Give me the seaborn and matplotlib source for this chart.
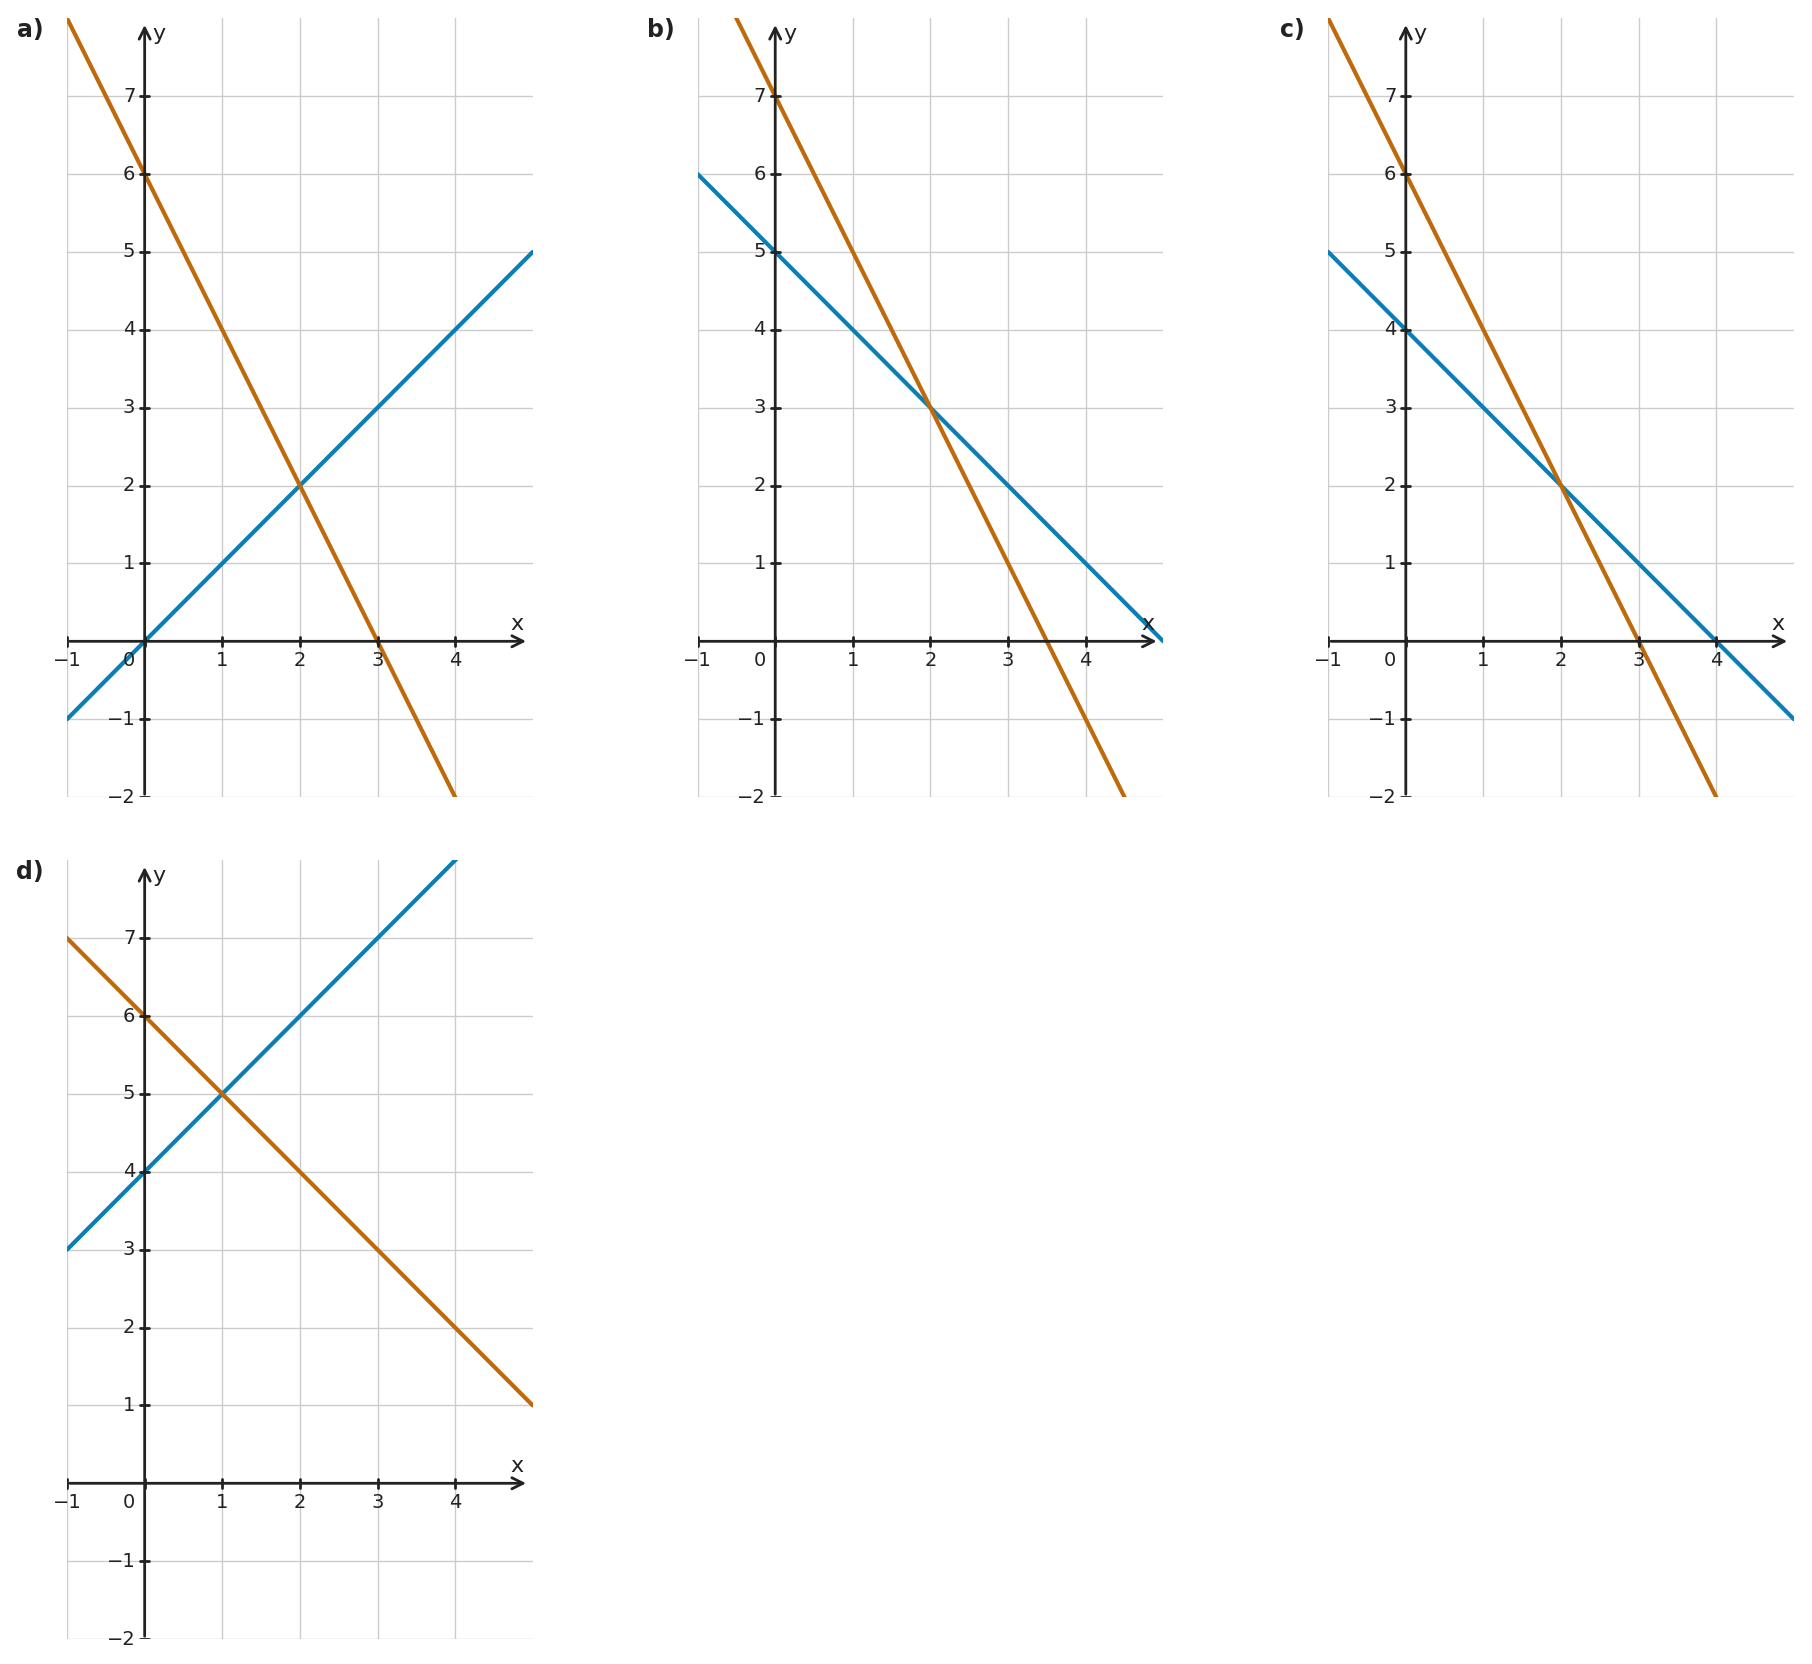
import numpy as np
import pandas as pd
import matplotlib
matplotlib.use("Agg")
import matplotlib.pyplot as plt
import seaborn as sns

sns.set_style("white")
plt.rcParams['font.family'] = ['DejaVu Sans']

panels = ["a)", "b)", "c)", "d)"]
blue_slope = [1, -1, -1, 1]
blue_icept = [0, 5, 4, 4]
orange_slope = [-2, -2, -2, -1]
orange_icept = [6, 7, 6, 6]
x_ticks = [-1, 0, 1, 2, 3, 4]
y_ticks = [-2, -1, 1, 2, 3, 4, 5, 6, 7]
BLUE = "#0a7fb5"
ORANGE = "#bf6a0a"
DARK = "#222222"

fig = plt.figure(figsize=(18.12, 16.64), dpi=100)
W, H = 0.257, 0.468
rects = [(0.037, 0.521), (0.385, 0.521), (0.733, 0.521), (0.037, 0.015)]

for i, (lx, by) in enumerate(rects):
    ax = fig.add_axes([lx, by, W, H])
    ax.set_xlim(-1, 5); ax.set_ylim(-2, 8)
    for s in ax.spines.values():
        s.set_visible(False)
    ax.set_xticks([]); ax.set_yticks([])
    for gx in [-1, 1, 2, 3, 4]:
        ax.axvline(gx, color="#cccccc", lw=1, zorder=0)
    for gy in [-2, -1, 1, 2, 3, 4, 5, 6, 7]:
        ax.axhline(gy, color="#cccccc", lw=1, zorder=0)
    xs = np.array([-1.0, 5.0])
    df = pd.DataFrame({"x": np.concatenate([xs, xs]),
                       "y": np.concatenate([blue_slope[i]*xs + blue_icept[i],
                                            orange_slope[i]*xs + orange_icept[i]]),
                       "s": ["b", "b", "o", "o"]})
    sns.lineplot(data=df, x="x", y="y", hue="s", palette={"b": BLUE, "o": ORANGE},
                 lw=3, ax=ax, legend=False, zorder=3)
    ax.set_xlim(-1, 5); ax.set_ylim(-2, 8)
    ax.set_xlabel(""); ax.set_ylabel("")
    ax.annotate("", xy=(4.95, 0), xytext=(-1, 0),
                arrowprops=dict(arrowstyle="->", color=DARK, lw=2, mutation_scale=20), zorder=4)
    ax.annotate("", xy=(0, 7.95), xytext=(0, -2),
                arrowprops=dict(arrowstyle="->", color=DARK, lw=2, mutation_scale=20), zorder=4)
    for t in x_ticks:
        ax.plot([t, t], [-0.06, 0.06], color=DARK, lw=2, zorder=4)
        lab = "\u2212" + str(-t) if t < 0 else str(t)
        ax.text(t - (0.2 if t == 0 else 0), -0.13, lab, ha="center", va="top", fontsize=14, color=DARK)
    for t in y_ticks:
        ax.plot([-0.06, 0.06], [t, t], color=DARK, lw=2, zorder=4)
        lab = "\u2212" + str(-t) if t < 0 else str(t)
        ax.text(-0.12, t, lab, ha="right", va="center", fontsize=14, color=DARK)
    ax.text(4.8, 0.1, "x", ha="center", va="bottom", fontsize=16, color=DARK)
    ax.text(0.1, 7.8, "y", ha="left", va="center", fontsize=16, color=DARK)
    ax.text(-0.05, 1.0, panels[i], transform=ax.transAxes, ha="right", va="top",
            fontsize=17, fontweight="bold", color=DARK)

fig.savefig("out.png", dpi=100)
